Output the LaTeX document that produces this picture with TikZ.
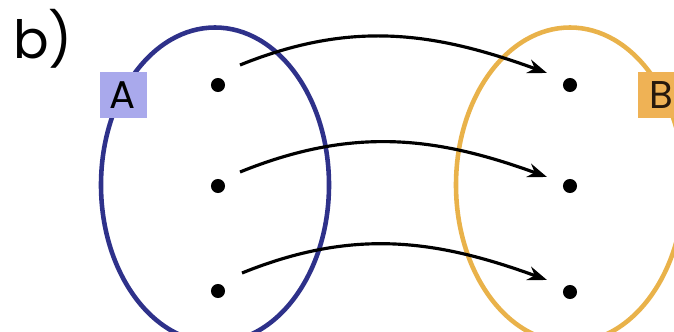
\documentclass[tikz,border=0pt]{standalone}
\usepackage{fontspec}
\setmainfont{Poppins}
\usetikzlibrary{arrows.meta,positioning,shapes.geometric}
\definecolor{setblue}{HTML}{2E318A}
\definecolor{setorange}{HTML}{E9B24A}
\definecolor{tagblue}{HTML}{A9A9EC}
\definecolor{tagorange}{HTML}{EFB255}
\begin{document}
\begin{tikzpicture}[>={Stealth[length=11pt,width=8pt]},
  set/.style={draw,ellipse,line width=2.6pt,minimum width=4.56cm,minimum height=6.3cm,inner sep=0pt},
  elem/.style={circle,fill=black,inner sep=0pt,minimum size=8pt},
  tag/.style={inner sep=0pt,minimum width=0.94cm,minimum height=0.92cm,font=\fontsize{22}{22}\selectfont},
  map/.style={->,line width=1.8pt}]
\useasboundingbox (0,0) rectangle (13.48,-6.64);
\node[font=\fontsize{30}{30}\selectfont] (lbl) at (0.86,-0.78) {b)};
% the two sets
\node[set,draw=setblue] (A) at (4.3,-3.7) {};
\node[set,draw=setorange] (B) at (11.4,-3.7) {};
\node[tag,fill=tagblue] (ta) at (2.46,-1.9) {A};
\node[tag,fill=tagorange,text=black!80!brown] (tb) at (13.22,-1.9) {B};
% elements
\node[elem] (a1) at (4.36,-1.7) {};
\node[elem] (a2) at (4.36,-3.72) {};
\node[elem] (a3) at (4.36,-5.82) {};
\node[elem] (b1) at (11.4,-1.7) {};
\node[elem] (b2) at (11.4,-3.72) {};
\node[elem] (b3) at (11.4,-5.84) {};
% mapping
\draw[map] ([shift={(0.44,0.4)}]a1.center) to[out=22,in=160] ([shift={(-0.46,0.24)}]b1.center);
\draw[map] ([shift={(0.44,0.28)}]a2.center) to[out=22,in=160] ([shift={(-0.46,0.18)}]b2.center);
\draw[map] ([shift={(0.48,0.36)}]a3.center) to[out=22,in=160] ([shift={(-0.46,0.24)}]b3.center);
\end{tikzpicture}
\end{document}
